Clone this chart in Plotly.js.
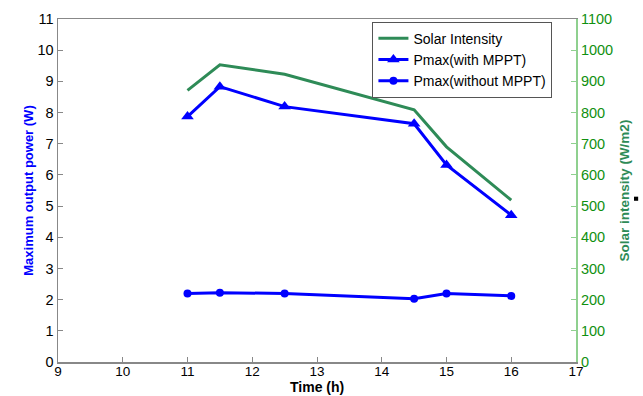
<!DOCTYPE html>
<html><head><meta charset="utf-8">
<script src="https://cdn.plot.ly/plotly-3.0.1.min.js"></script>
<style>html,body{margin:0;padding:0;background:#fff}#c{width:643px;height:396px}</style>
</head><body><div id="c"></div>
<script>
var solarTime = [11, 11.5, 12.5, 13, 14.5, 15, 16];
var solarIntensity = [871, 953, 923, 895, 809, 690, 519];
var pTime = [11, 11.5, 12.5, 14.5, 15, 16];
var pWithMPPT = [7.87, 8.83, 8.19, 7.64, 6.32, 4.71];
var pWithoutMPPT = [2.2, 2.22, 2.2, 2.03, 2.2, 2.12];
var xTicks = [9, 10, 11, 12, 13, 14, 15, 16, 17];
var yTicks = [0, 1, 2, 3, 4, 5, 6, 7, 8, 9, 10, 11];
var y2Ticks = [0, 100, 200, 300, 400, 500, 600, 700, 800, 900, 1000, 1100];

var traces = [
  {x: solarTime, y: solarIntensity, name: 'Solar Intensity', yaxis: 'y2', mode: 'lines',
   line: {color: '#2e8b57', width: 3}},
  {x: pTime, y: pWithMPPT, name: 'Pmax(with MPPT)', mode: 'lines+markers',
   line: {color: '#0000ff', width: 3}, marker: {symbol: 'triangle-up', size: 11, color: '#0000ff'}},
  {x: pTime, y: pWithoutMPPT, name: 'Pmax(without MPPT)', mode: 'lines+markers',
   line: {color: '#0000ff', width: 3}, marker: {symbol: 'circle', size: 8, color: '#0000ff'}}
];
var F = 'Liberation Sans, Arial, sans-serif';
var f = {family: F, size: 14.5, color: '#000'};
var fx = {family: F, size: 13.5, color: '#000'};
var layout = {
  width: 643, height: 396,
  margin: {l: 58, r: 67, t: 19, b: 34, pad: 0},
  paper_bgcolor: '#fff', plot_bgcolor: '#fff',
  font: f,
  showlegend: true,
  legend: {x: 0.607, y: 0.992, xanchor: 'left', yanchor: 'top', bgcolor: '#fff',
    bordercolor: '#555', borderwidth: 1, font: {family: F, size: 14, color: '#000'},
    tracegroupgap: 0, itemwidth: 30},
  xaxis: {range: [9, 17], tickvals: xTicks, ticktext: xTicks.map(String), showgrid: false, zeroline: false,
    showline: true, linecolor: '#888', linewidth: 1.5, mirror: true, ticks: 'inside', ticklen: 5, tickcolor: '#888',
    tickfont: fx, ticklabelstandoff: -4},
  yaxis: {range: [0, 11], tickvals: yTicks, ticktext: yTicks.map(String), showgrid: false, zeroline: false,
    showline: true, linecolor: '#888', linewidth: 1.5, ticks: 'inside', ticklen: 5, tickcolor: '#888',
    tickfont: f, title: {text: '<b>Maximum output power (W)</b>', font: {family: F, size: 13, color: '#0000ff'}, standoff: 1}},
  yaxis2: {range: [0, 1100], tickvals: y2Ticks, ticktext: y2Ticks.map(String), overlaying: 'y', side: 'right',
    showgrid: false, zeroline: false, showline: true, linecolor: '#8fd08f', linewidth: 2,
    ticks: 'inside', ticklen: 5, tickcolor: '#8fd08f',
    tickfont: {family: F, size: 14.5, color: '#109010'},
    title: {text: '<b>Solar intensity (W/m2)</b>', font: {family: F, size: 13.5, color: '#2e8b57'}, standoff: 7}},
  annotations: [{text: '<b>Time (h)</b>', xref: 'paper', yref: 'paper', x: 0.5, y: -0.074,
    xanchor: 'center', yanchor: 'middle', showarrow: false, font: {family: F, size: 14, color: '#000'}}],
  shapes: [{type: 'rect', xref: 'paper', yref: 'paper', x0: 1.112, x1: 1.12, y0: 0.47, y1: 0.482,
    fillcolor: '#000', line: {width: 0}}]
};
Plotly.newPlot('c', traces, layout, {displayModeBar: false, staticPlot: true});
</script></body></html>
